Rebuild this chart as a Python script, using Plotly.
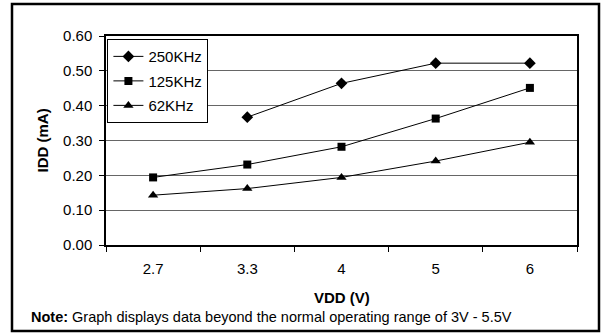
import plotly.graph_objects as go

# supply voltage categories
vdd = ["2.7", "3.3", "4", "5", "6"]

# IDD (mA) per oscillator frequency
idd_250k = [None, 0.367, 0.464, 0.522, 0.522]
idd_125k = [0.194, 0.231, 0.282, 0.363, 0.451]
idd_62k = [0.143, 0.162, 0.194, 0.241, 0.295]

y_ticks = [0.0, 0.1, 0.2, 0.3, 0.4, 0.5, 0.6]

series = [
    ("250KHz", idd_250k, "diamond", 9),
    ("125KHz", idd_125k, "square", 8),
    ("62KHz", idd_62k, "triangle-up", 9),
]

fig = go.Figure()
for name, vals, sym, size in series:
    fig.add_trace(go.Scatter(
        x=vdd, y=vals, name=name, mode="lines+markers",
        legendgroup=name,
        line=dict(color="black", width=1),
        marker=dict(symbol=sym, size=size, color="black"),
        connectgaps=False,
    ))

font = "Liberation Sans, Arial, sans-serif"

fig.update_xaxes(
    type="category", range=[-0.5, len(vdd) - 0.5],
    tickson="boundaries", ticks="outside", ticklen=5,
    tickcolor="black", showline=True, linecolor="black", linewidth=1.5,
    mirror=True, showgrid=False, tickfont=dict(size=15, color="black"),
    ticklabelstandoff=9,
)
fig.update_yaxes(
    range=[0, 0.6], tickvals=y_ticks, tickformat=".2f", ticks="outside",
    ticklen=5, tickcolor="black", showline=True, linecolor="black",
    linewidth=1.5, mirror=True, showgrid=True, gridcolor="#666666",
    gridwidth=1, zeroline=False, tickfont=dict(size=15, color="black"),
    ticklabelstandoff=4,
)

fig.update_layout(
    width=605, height=334,
    margin=dict(l=106, r=28, t=36, b=89),
    paper_bgcolor="white", plot_bgcolor="white",
    font=dict(family=font, color="black"),
    showlegend=True,
    legend=dict(
        x=0.003, y=0.985, xanchor="left", yanchor="top",
        bordercolor="black", borderwidth=1, bgcolor="white",
        font=dict(size=15), tracegroupgap=2,
    ),
    shapes=[dict(type="rect", xref="paper", yref="paper",
                 x0=-94 / 471, x1=493 / 471, y0=-86 / 209, y1=241 / 209,
                 line=dict(color="black", width=2.5))],
    annotations=[
        dict(text="<b>IDD (mA)</b>", xref="paper", yref="paper",
             x=-64 / 471, y=0.5, xanchor="center", yanchor="middle",
             textangle=-90, showarrow=False, font=dict(size=15)),
        dict(text="<b>VDD (V)</b>", xref="paper", yref="paper",
             x=0.5, y=-52 / 209, xanchor="center", yanchor="middle",
             showarrow=False, font=dict(size=15)),
        dict(text="<b>Note:</b> Graph displays data beyond the normal operating range of 3V - 5.5V",
             xref="paper", yref="paper", x=-77 / 471, y=-72 / 209,
             xanchor="left", yanchor="middle", showarrow=False,
             font=dict(size=14.5)),
    ],
)

fig.write_html("out.html", config={"displayModeBar": False},
               post_script="document.body.style.margin='0';")
